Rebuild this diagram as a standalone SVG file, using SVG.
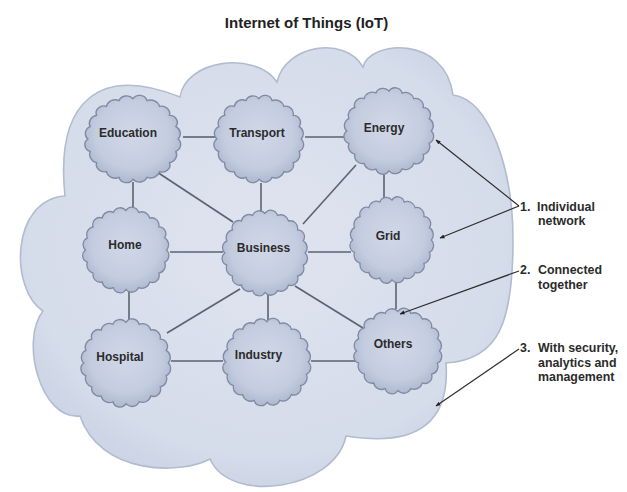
<svg xmlns="http://www.w3.org/2000/svg" width="627" height="492" viewBox="0 0 627 492">
<defs>
<radialGradient id="bigG" cx="50%" cy="45%" r="60%">
<stop offset="0" stop-color="#dfe4ef"/>
<stop offset="0.8" stop-color="#d5dcea"/>
<stop offset="1" stop-color="#c8d1e3"/>
</radialGradient>
<radialGradient id="nodeG" cx="50%" cy="45%" r="55%">
<stop offset="0" stop-color="#d0d7e7"/>
<stop offset="0.7" stop-color="#c4cde0"/>
<stop offset="1" stop-color="#aeb9cf"/>
</radialGradient>
<path id="nc" d="M41,0 A7.5,7.5 0 0,1 39,12.2 A8,8 0 0,1 33.2,23.2 A7,7 0 0,1 24.1,32 A8.5,8.5 0 0,1 12.7,37.6 A7.5,7.5 0 0,1 0,39.5 A7,7 0 0,1 -12.7,37.6 A8,8 0 0,1 -24.1,32 A7.5,7.5 0 0,1 -33.2,23.2 A8.5,8.5 0 0,1 -39,12.2 A7,7 0 0,1 -41,0 A7.5,7.5 0 0,1 -39,-12.2 A8,8 0 0,1 -33.2,-23.2 A7,7 0 0,1 -24.1,-32 A8,8 0 0,1 -12.7,-37.6 A7.5,7.5 0 0,1 0,-39.5 A7,7 0 0,1 12.7,-37.6 A8.5,8.5 0 0,1 24.1,-32 A7.5,7.5 0 0,1 33.2,-23.2 A7,7 0 0,1 39,-12.2 A8,8 0 0,1 41,0 Z"/>
<marker id="ah" viewBox="0 0 10 10" refX="9" refY="5" markerWidth="5" markerHeight="5" orient="auto" markerUnits="userSpaceOnUse">
<path d="M0,1 L10,5 L0,9 Z" fill="#222"/>
</marker>
</defs>
<style>
.title{font-family:"Liberation Sans",Arial,sans-serif;font-weight:bold;font-size:15px;fill:#222;}
.lbl{font-family:"Liberation Sans",Arial,sans-serif;font-weight:bold;font-size:12px;fill:#2b2b2b;text-anchor:middle;}
.ann{font-family:"Liberation Sans",Arial,sans-serif;font-weight:bold;font-size:12.4px;fill:#2b2b2b;}
.node use{fill:url(#nodeG);stroke:#7f8ba3;stroke-width:1.3;}
.conn line{stroke:#5b6272;stroke-width:1.6;}
.arr line{stroke:#2e2e2e;stroke-width:1.2;marker-end:url(#ah);}
</style>
<rect width="627" height="492" fill="#ffffff"/>
<text class="title" x="306.5" y="28" text-anchor="middle">Internet of Things (IoT)</text>
<g id="cloud">
<path d="M65,196 C55,100 100,65 180,97 C185,60 255,50 277,82 C285,45 345,35 363,67 C370,40 445,35 453,95 C490,100 513,170 513,240 C513,320 500,360 446,363 C450,420 420,448 346,436 C335,490 230,505 210,459 C180,475 100,475 80,416 C40,420 20,340 43,311 C10,290 10,200 65,196 Z" fill="url(#bigG)" stroke="#b2bcd0" stroke-width="1.6"/>
</g>
<g id="connectors" class="conn">
<line x1="183" y1="137" x2="215" y2="137"/>
<line x1="305" y1="137" x2="345" y2="137"/>
<line x1="133" y1="182" x2="133" y2="208"/>
<line x1="157" y1="172" x2="233" y2="222"/>
<line x1="261" y1="183" x2="261" y2="212"/>
<line x1="356" y1="165" x2="303" y2="224"/>
<line x1="384" y1="175" x2="384" y2="200"/>
<line x1="170" y1="252" x2="223" y2="252"/>
<line x1="308" y1="252" x2="351" y2="252"/>
<line x1="129" y1="292" x2="129" y2="321"/>
<line x1="240" y1="289" x2="167" y2="333"/>
<line x1="268" y1="295" x2="268" y2="320"/>
<line x1="295" y1="286" x2="363" y2="328"/>
<line x1="396" y1="283" x2="396" y2="309"/>
<line x1="171" y1="361" x2="223" y2="361"/>
<line x1="311" y1="361" x2="357" y2="361"/>
</g>
<g id="education" class="node"><use href="#nc" transform="translate(133,139) scale(1.1,1.02)"/><text class="lbl" x="128" y="137">Education</text></g>
<g id="transport" class="node"><use href="#nc" transform="translate(259,139) scale(1.03,1.02)"/><text class="lbl" x="257" y="137">Transport</text></g>
<g id="energy" class="node"><use href="#nc" transform="translate(389,131) scale(1.03,1.01)"/><text class="lbl" x="384" y="132">Energy</text></g>
<g id="home" class="node"><use href="#nc" transform="translate(126,250) scale(0.99,1)"/><text class="lbl" x="125" y="249">Home</text></g>
<g id="business" class="node"><use href="#nc" transform="translate(265,253) scale(0.98,1)"/><text class="lbl" x="263.5" y="252">Business</text></g>
<g id="grid" class="node"><use href="#nc" transform="translate(392,240) scale(0.96,1.01)"/><text class="lbl" x="388" y="240">Grid</text></g>
<g id="hospital" class="node"><use href="#nc" transform="translate(126,363) scale(1.03,1.03)"/><text class="lbl" x="120" y="361">Hospital</text></g>
<g id="industry" class="node"><use href="#nc" transform="translate(267,362) scale(1.01,1.02)"/><text class="lbl" x="258.5" y="359">Industry</text></g>
<g id="others" class="node"><use href="#nc" transform="translate(398,351) scale(1.01,1)"/><text class="lbl" x="393" y="348">Others</text></g>
<g id="annotations" class="arr">
<line x1="519" y1="206" x2="436" y2="140"/>
<line x1="519" y1="206" x2="440" y2="238"/>
<line x1="519" y1="271" x2="400" y2="314"/>
<line x1="519" y1="349" x2="436" y2="406"/>
</g>
<g id="notes">
<text class="ann" y="211"><tspan x="520">1.</tspan><tspan x="537">Individual</tspan></text>
<text class="ann" x="538" y="225">network</text>
<text class="ann" y="274"><tspan x="520">2.</tspan><tspan x="538">Connected</tspan></text>
<text class="ann" x="538" y="289">together</text>
<text class="ann" y="352"><tspan x="520">3.</tspan><tspan x="538">With security,</tspan></text>
<text class="ann" x="538" y="367">analytics and</text>
<text class="ann" x="538" y="381">management</text>
</g>
</svg>
